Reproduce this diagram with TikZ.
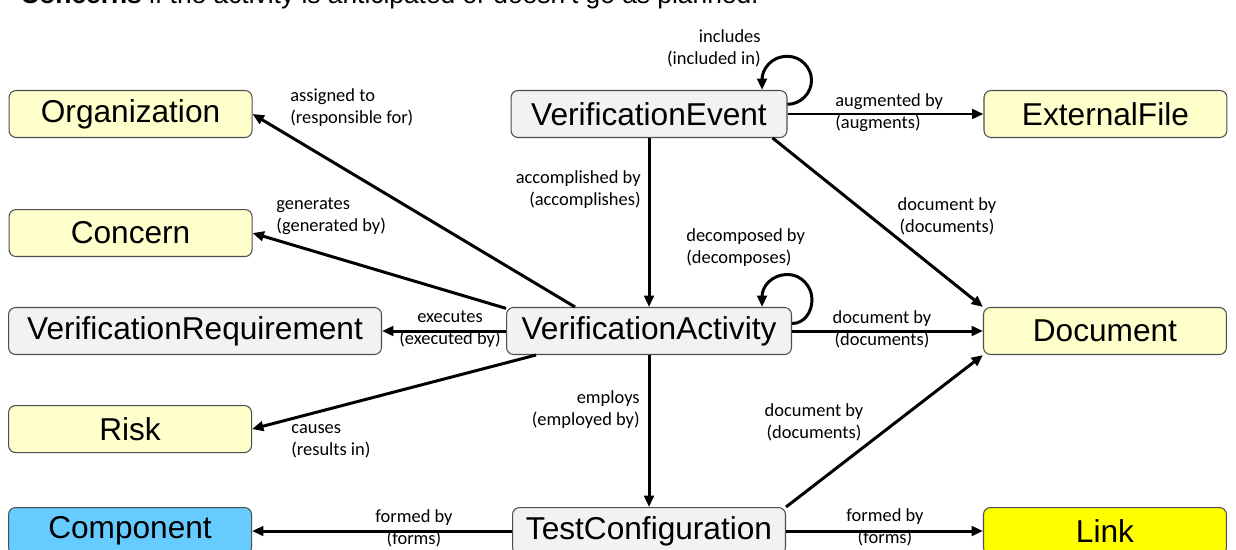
\documentclass[tikz,border=0pt]{standalone}
\usepackage{fontspec}
\setmainfont{Liberation Sans}
\newfontfamily\labelfont{Carlito}
\usetikzlibrary{positioning}
\usetikzlibrary{arrows.meta}
\definecolor{paleyellow}{HTML}{FFFFCC}
\definecolor{boxgray}{HTML}{F2F2F2}
\definecolor{edgegray}{HTML}{4D4D4D}
\definecolor{compblue}{HTML}{66CCFF}
\definecolor{linkyellow}{HTML}{FFFF00}

\begin{document}
\begin{tikzpicture}[x=0.02cm,y=-0.02cm]
\tikzset{entity/.style={rectangle, draw=edgegray, line width=0.6pt, rounded corners=4pt, fill=paleyellow, minimum width=4.86cm, minimum height=0.94cm, inner sep=0pt, font=\fontsize{18}{20}\selectfont}}
\tikzset{kernel/.style={entity, fill=boxgray}}
\tikzset{rel/.style={line width=1.7pt, -{Triangle[length=6.5pt,width=5.5pt]}}}
\tikzset{lbl/.style={inner sep=0pt, font=\labelfont\fontsize{10.5}{12.5}\selectfont}}
\useasboundingbox (0,0) rectangle (1236,550);
\clip (0,0) rectangle (1236,550);
\node[anchor=base west, inner sep=0pt, font=\fontsize{15}{18}\selectfont] (title) at (20,4) {\textbf{Concerns} if the activity is anticipated or doesn't go as planned.};
% central column
\node[kernel, minimum width=5.52cm] (ve) at (649,114) {VerificationEvent};
\node[kernel, minimum width=5.7cm, below=3.38cm of ve] (va) {VerificationActivity};
\node[kernel, minimum width=5.46cm, below=3.04cm of va] (tc) {TestConfiguration};
% left column
\node[entity, left=5.16cm of ve] (org) {Organization};
\node[entity, below=1.42cm of org] (con) {Concern};
\node[kernel, minimum width=7.46cm, left=2.48cm of va] (req) {VerificationRequirement};
\node[entity, below=1cm of req.south west, anchor=north west] (risk) {Risk};
\node[entity, fill=compblue, left=5.2cm of tc] (comp) {Component};
% right column
\node[entity, right=3.92cm of ve] (ext) {ExternalFile};
\node[entity, right=3.82cm of va] (doc) {Document};
\node[entity, fill=linkyellow, right=3.94cm of tc] (link) {Link};
% relations
\draw[rel] (va.162) -- (org.east);
\draw[rel] (va.171) -- (con.east);
\draw[rel] (va.west) -- (req.east);
\draw[rel] (va.192.5) -- (risk.east);
\draw[rel] (ve.south) -- (va.north);
\draw[rel] (va.south) -- (tc.north);
\draw[rel] (tc.west) -- (comp.east);
\draw[rel] (tc.east) -- (link.west);
\draw[rel] (ve.east) -- (ext.west);
\draw[rel] (ve.349) -- (doc.north west);
\draw[rel] (va.east) -- (doc.west);
\draw[rel] (tc.north east) -- (doc.south west);
% self loops
\draw[rel] (ve.4) .. controls +(13,0) and +(0,13) .. ++(24,-24) .. controls +(0,-13) and +(13,0) .. ++(-24,-24) .. controls +(-17,0) and +(0,-20) .. (ve.12.4);
\draw[rel] (va.3) .. controls +(12,0) and +(0,13) .. ++(20,-24) .. controls +(0,-13) and +(13,0) .. ++(-24,-25) .. controls +(-17,0) and +(0,-20) .. (va.12.6);
% labels
\node[lbl, anchor=west, align=left] (lblorg) at (290,108) {assigned to\\(responsible for)};
\node[lbl, anchor=west, align=left] (lblcon) at (276,216) {generates\\(generated by)};
\node[lbl, align=center] (lblreq) at (450,329) {executes\\(executed by)};
\node[lbl, anchor=west, align=left] (lblrisk) at (291,441) {causes\\(results in)};
\node[lbl, anchor=east, align=right] (lblacc) at (641,190) {accomplished by\\(accomplishes)};
\node[lbl, anchor=east, align=right] (lblinc) at (761,48) {includes\\(included in)};
\node[lbl, anchor=west, align=left] (lblaug) at (835,113) {augmented by\\(augments)};
\node[lbl, align=center] (lblvedoc) at (947,216) {document by\\(documents)};
\node[lbl, anchor=west, align=left] (lbldec) at (686,248) {decomposed by\\(decomposes)};
\node[lbl, align=center] (lblvadoc) at (882,329) {document by\\(documents)};
\node[lbl, anchor=east, align=right] (lblemp) at (640,410) {employs\\(employed by)};
\node[lbl, align=center] (lbltcdoc) at (814,422) {document by\\(documents)};
\node[lbl, align=center] (lblcomp) at (414,528) {formed by\\(forms)};
\node[lbl, align=center] (lbllink) at (885,527) {formed by\\(forms)};
\end{tikzpicture}
\end{document}
